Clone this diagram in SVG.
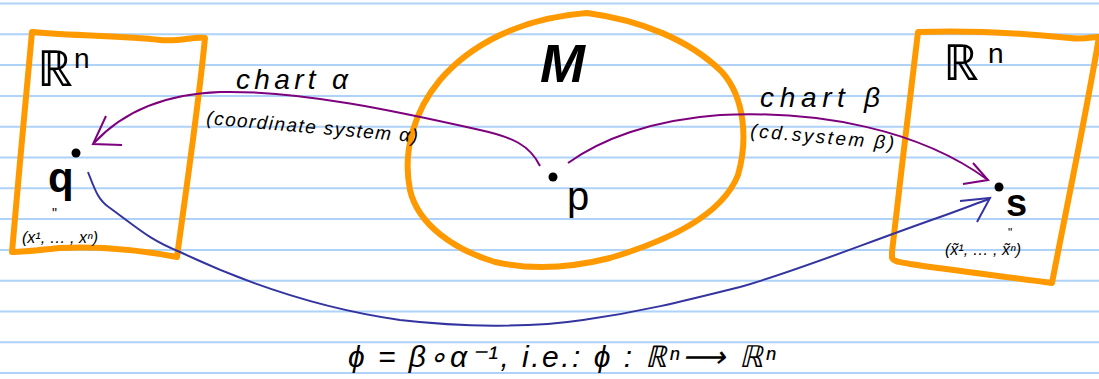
<svg xmlns="http://www.w3.org/2000/svg" width="1099" height="379" viewBox="0 0 1099 379">
<style>
.rule{stroke:#aed2f8;stroke-width:2}
.region{fill:none;stroke:#ff9900;stroke-width:6;stroke-linejoin:round;stroke-linecap:round}
.t{font-family:"Liberation Sans",sans-serif;fill:#000}
.big{font-size:50px}
.sup{font-size:28px}
.lbl{font-size:28px;font-style:italic}
.small{font-size:16px;font-style:italic}
.pt{font-size:42px;font-weight:bold}
.chart{fill:none;stroke:#7d007d;stroke-width:2}
.phi{fill:none;stroke:#3434a0;stroke-width:2}
</style>
<rect width="1099" height="379" fill="#fff"/>
<g id="ruling">
<line class="rule" x1="0" y1="3.5" x2="1099" y2="3.5"/>
<line class="rule" x1="0" y1="34.3" x2="1099" y2="34.3"/>
<line class="rule" x1="0" y1="65.1" x2="1099" y2="65.1"/>
<line class="rule" x1="0" y1="95.9" x2="1099" y2="95.9"/>
<line class="rule" x1="0" y1="126.7" x2="1099" y2="126.7"/>
<line class="rule" x1="0" y1="157.5" x2="1099" y2="157.5"/>
<line class="rule" x1="0" y1="188.3" x2="1099" y2="188.3"/>
<line class="rule" x1="0" y1="219.1" x2="1099" y2="219.1"/>
<line class="rule" x1="0" y1="249.9" x2="1099" y2="249.9"/>
<line class="rule" x1="0" y1="280.7" x2="1099" y2="280.7"/>
<line class="rule" x1="0" y1="311.5" x2="1099" y2="311.5"/>
<line class="rule" x1="0" y1="342.3" x2="1099" y2="342.3"/>
<line class="rule" x1="0" y1="373.1" x2="1099" y2="373.1"/>
</g>
<g id="left-space">
<path class="region" d="M32,32 C80,36 120,36 160,40 C180,42 195,36 205,38 C198,110 186,190 177,257 C140,250 100,246 60,248 C40,250 25,252 12,252 C18,180 26,100 32,32 Z"/>
<text class="t big" x="37" y="86">ℝ</text>
<text class="t sup" x="74" y="68">n</text>
<circle cx="76" cy="153" r="4.5"/>
<text class="t pt" x="48" y="192">q</text>
<text class="t" x="52" y="218" font-size="14">"</text>
<text class="t small" x="22" y="243">(x¹, … , xⁿ)</text>
</g>
<g id="manifold">
<path class="region" d="M587,13 C640,20 690,40 722,72 C745,98 748,140 738,175 C722,215 670,240 610,258 C570,268 530,270 495,262 C455,250 418,225 410,190 C402,150 415,110 440,80 C470,45 520,18 587,13 Z"/>
<text class="t" x="540" y="82" font-size="54" font-weight="bold" font-style="italic">M</text>
<circle cx="553" cy="177" r="4.5"/>
<text class="t" x="567" y="210" font-size="40">p</text>
</g>
<g id="right-space">
<path class="region" d="M918,32 C970,30 1030,34 1070,38 C1085,40 1095,36 1099,37 C1085,120 1068,200 1052,283 C1000,276 950,270 910,264 C900,262 894,262 892,258 L892,252 C900,180 910,100 918,32 Z"/>
<text class="t big" x="943" y="80">ℝ</text>
<text class="t sup" x="988" y="63">n</text>
<circle cx="999" cy="187" r="4.5"/>
<text class="t" x="1006" y="216" font-size="38" font-weight="bold">s</text>
<text class="t" x="1008" y="237" font-size="12">"</text>
<text class="t small" x="945" y="255">(x̃¹, … , x̃ⁿ)</text>
</g>
<g id="connectors">
<path class="chart" d="M540,166 C530,145 512,137 480,130 C400,112 300,90 220,92 C160,94 120,115 94,143"/>
<path class="chart" d="M106,116 L93,144 L122,145"/>
<path class="chart" d="M568,163 C600,140 650,120 720,115 C820,110 920,130 988,180"/>
<path class="chart" d="M973,163 L988,180 L963,184"/>
<path class="phi" d="M88,172 C95,190 98,200 110,208 C140,230 150,240 180,252 C260,290 330,310 400,320 C460,327 530,328 583,320 C640,312 680,302 740,287 C800,270 860,245 940,217 C960,210 975,204 989,199"/>
<path class="phi" d="M960,201 L990,198 L977,222"/>
</g>
<g id="labels">
<text class="t lbl" x="236" y="89" textLength="112" lengthAdjust="spacing">chart α</text>
<text class="t" x="206" y="124" font-size="19" font-style="italic" transform="rotate(5 206 124)" textLength="212" lengthAdjust="spacing">(coordinate system α)</text>
<text class="t lbl" x="760" y="107" textLength="120" lengthAdjust="spacing">chart  β</text>
<text class="t" x="750" y="137" font-size="19" font-style="italic" transform="rotate(5 750 137)" textLength="144" lengthAdjust="spacing">(cd.system β)</text>
</g>
<g id="formula">
<text class="t" x="348" y="367" font-size="30" font-style="italic" textLength="428" lengthAdjust="spacing">ϕ = β∘α⁻¹, i.e.: ϕ : ℝⁿ⟶ ℝⁿ</text>
</g>
</svg>
